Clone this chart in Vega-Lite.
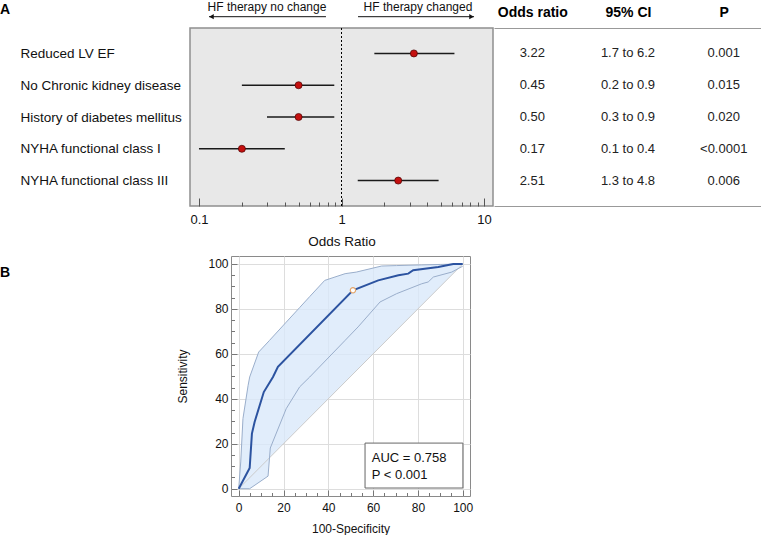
{
  "$schema": "https://vega.github.io/schema/vega-lite/v6.json",
  "padding": {"left": 0, "top": 0, "right": 0, "bottom": 0},
  "background": "white",
  "config": {
    "font": "Liberation Sans",
    "view": {"stroke": null},
    "axis": {"labelFont": "Liberation Sans", "titleFont": "Liberation Sans", "labelColor": "#111", "titleColor": "#111", "titleFontWeight": "normal"},
    "title": {"font": "Liberation Sans", "color": "#000"}
  },
  "datasets": {
    "forest": [
      {"name": "Reduced LV EF", "or": 3.22, "lo": 1.7, "hi": 6.2, "or_t": "3.22", "ci_t": "1.7 to 6.2", "p_t": "0.001"},
      {"name": "No Chronic kidney disease", "or": 0.5, "lo": 0.2, "hi": 0.89, "or_t": "0.45", "ci_t": "0.2 to 0.9", "p_t": "0.015"},
      {"name": "History of diabetes mellitus", "or": 0.5, "lo": 0.3, "hi": 0.89, "or_t": "0.50", "ci_t": "0.3 to 0.9", "p_t": "0.020"},
      {"name": "NYHA functional class I", "or": 0.2, "lo": 0.1, "hi": 0.4, "or_t": "0.17", "ci_t": "0.1 to 0.4", "p_t": "<0.0001"},
      {"name": "NYHA functional class III", "or": 2.5, "lo": 1.3, "hi": 4.8, "or_t": "2.51", "ci_t": "1.3 to 4.8", "p_t": "0.006"}
    ],
    "arrows": [
      {"x1": 0.1176, "x2": 0.778, "y": 1.0635},
      {"x1": 1.306, "x2": 8.51, "y": 1.0635}
    ],
    "heads": [
      {"x": 0.1224, "y": 1.0635, "shape": "triangle-left"},
      {"x": 8.17, "y": 1.0635, "shape": "triangle-right"}
    ],
    "arrowtext": [
      {"x": 0.30, "y": 1.116, "t": "HF therapy no change"},
      {"x": 3.44, "y": 1.116, "t": "HF therapy changed"}
    ],
    "roc_band": [
      {"fpr": 0, "up": 0, "lo": 0},
      {"fpr": 0.9, "up": 11.9, "lo": 0},
      {"fpr": 1.9, "up": 31.2, "lo": 0},
      {"fpr": 4.2, "up": 46, "lo": 0},
      {"fpr": 4.9, "up": 49.7, "lo": 0},
      {"fpr": 8.9, "up": 60.8, "lo": 2.7},
      {"fpr": 13.1, "up": 65.3, "lo": 5.6},
      {"fpr": 13.75, "up": 66, "lo": 13.75},
      {"fpr": 21.2, "up": 74.1, "lo": 21.2},
      {"fpr": 27.2, "up": 80.6, "lo": 27.2},
      {"fpr": 31.7, "up": 85.5, "lo": 31.7},
      {"fpr": 38.4, "up": 92.7, "lo": 38.4},
      {"fpr": 47.5, "up": 95.7, "lo": 47.5},
      {"fpr": 52.5, "up": 96.4, "lo": 52.5},
      {"fpr": 63.8, "up": 99.1, "lo": 63.8},
      {"fpr": 70.5, "up": 99.3, "lo": 70.5},
      {"fpr": 81.7, "up": 99.6, "lo": 81.7},
      {"fpr": 90, "up": 99.8, "lo": 90},
      {"fpr": 100, "up": 100, "lo": 100}
    ],
    "roc_lower": [
      {"fpr": 0, "sens": 0}, {"fpr": 4.9, "sens": 0}, {"fpr": 13.1, "sens": 5.6}, {"fpr": 14.1, "sens": 18.1},
      {"fpr": 21.2, "sens": 35.6}, {"fpr": 27.2, "sens": 45.3}, {"fpr": 31.7, "sens": 49.7}, {"fpr": 47.5, "sens": 66},
      {"fpr": 53.3, "sens": 72}, {"fpr": 63.1, "sens": 83.1}, {"fpr": 70.5, "sens": 86.8}, {"fpr": 81.7, "sens": 91.2},
      {"fpr": 84.6, "sens": 92}, {"fpr": 86.9, "sens": 94.2}, {"fpr": 95.1, "sens": 96.4}, {"fpr": 100, "sens": 99}
    ],
    "roc_main": [
      {"fpr": 0, "sens": 0}, {"fpr": 4.9, "sens": 9.2}, {"fpr": 5.9, "sens": 24.5}, {"fpr": 7.1, "sens": 29.7},
      {"fpr": 11.2, "sens": 43}, {"fpr": 15.3, "sens": 49.7}, {"fpr": 17.5, "sens": 54.2}, {"fpr": 51, "sens": 88.3},
      {"fpr": 62.3, "sens": 92.7}, {"fpr": 71.3, "sens": 95}, {"fpr": 75.7, "sens": 95.7}, {"fpr": 77.9, "sens": 97.2},
      {"fpr": 89.1, "sens": 98.7}, {"fpr": 95.8, "sens": 100}, {"fpr": 100, "sens": 100}
    ],
    "diag": [{"fpr": 0, "sens": 0}, {"fpr": 100, "sens": 100}],
    "cut": [{"fpr": 51, "sens": 88.3}],
    "box": [{"x1": 56.4, "x2": 100.1, "y1": 0.3, "y2": 20.3}],
    "boxtext": [{"fpr": 59.4, "sens": 13.7, "t": "AUC = 0.758"}, {"fpr": 59.4, "sens": 6.0, "t": "P < 0.001"}]
  },
  "spacing": 6,
  "vconcat": [
    {
      "spacing": 0,
      "hconcat": [
        {
          "width": 19, "height": 178,
          "data": {"values": []},
          "mark": "text",
          "title": {"text": "A", "anchor": "start", "fontSize": 14, "fontWeight": "bold", "offset": 11}
        },
        {
          "width": 303, "height": 178,
          "view": {"fill": "#e8e8e8", "stroke": "#8f8f8f", "strokeWidth": 1.5},
          "layer": [
            {
              "data": {"name": "forest"},
              "layer": [
                {
                  "mark": {"type": "rule", "color": "#1a1a1a", "strokeWidth": 1.6},
                  "encoding": {
                    "x": {"field": "lo", "type": "quantitative", "title": "Odds Ratio",
                      "scale": {"type": "log", "domain": [0.0865, 11.56], "nice": false},
                      "axis": {
                        "values": [0.1, 0.2, 0.3, 0.4, 0.5, 0.6, 0.7, 0.8, 0.9, 1, 2, 3, 4, 5, 6, 7, 8, 9, 10],
                        "labelExpr": "datum.value == 0.1 ? '0.1' : datum.value == 1 ? '1' : datum.value == 10 ? '10' : ''",
                        "tickSize": {"condition": {"test": "datum.value == 0.1 || datum.value == 1 || datum.value == 10", "value": -8}, "value": -4},
                        "tickColor": "#555", "domain": false, "grid": false,
                        "labelFontSize": 13, "labelPadding": 15, "labelOverlap": false, "labelFlush": false, "labelBound": false,
                        "titleFontSize": 13.5, "titlePadding": 4
                      }
                    },
                    "x2": {"field": "hi"},
                    "y": {"field": "name", "type": "nominal", "sort": null,
                      "scale": {"type": "point", "padding": 0.8},
                      "axis": {"title": null, "domain": false, "ticks": false, "tickSize": 0, "labelAlign": "left", "labelPadding": 170, "labelFontSize": 13.5, "labelLimit": 400}
                    }
                  }
                },
                {
                  "mark": {"type": "circle", "size": 50, "color": "#c4100f", "stroke": "#4a0000", "strokeWidth": 0.7, "opacity": 1},
                  "encoding": {
                    "x": {"field": "or", "type": "quantitative", "title": "Odds Ratio"},
                    "y": {"field": "name", "type": "nominal", "sort": null}
                  }
                },
                {
                  "data": {"values": [{"v": 1}]},
                  "mark": {"type": "rule", "color": "#000", "strokeWidth": 1, "strokeDash": [2, 2]},
                  "encoding": {"x": {"field": "v", "type": "quantitative", "title": "Odds Ratio"}}
                }
              ]
            },
            {
              "layer": [
                {
                  "data": {"name": "arrows"},
                  "mark": {"type": "rule", "color": "#111", "strokeWidth": 1},
                  "encoding": {
                    "x": {"field": "x1", "type": "quantitative", "title": "Odds Ratio"},
                    "x2": {"field": "x2"},
                    "y": {"field": "y", "type": "quantitative", "scale": {"domain": [0, 1], "nice": false, "zero": false}, "axis": null}
                  }
                },
                {
                  "data": {"name": "heads"},
                  "mark": {"type": "point", "filled": true, "color": "#111", "size": 28, "opacity": 1},
                  "encoding": {
                    "x": {"field": "x", "type": "quantitative", "title": "Odds Ratio"},
                    "y": {"field": "y", "type": "quantitative"},
                    "shape": {"field": "shape", "type": "nominal", "scale": null}
                  }
                },
                {
                  "data": {"name": "arrowtext"},
                  "mark": {"type": "text", "fontSize": 12, "color": "#111", "baseline": "middle"},
                  "encoding": {
                    "x": {"field": "x", "type": "quantitative", "title": "Odds Ratio"},
                    "y": {"field": "y", "type": "quantitative"},
                    "text": {"field": "t"}
                  }
                }
              ]
            }
          ],
          "resolve": {"scale": {"y": "independent"}}
        },
        {
          "width": 268, "height": 178,
          "data": {"name": "forest"},
          "transform": [{"fold": ["or_t", "ci_t", "p_t"], "as": ["col", "val"]}],
          "layer": [
            {
              "mark": {"type": "text", "fontSize": 13, "color": "#222", "baseline": "middle"},
              "encoding": {
                "x": {"field": "col", "type": "nominal", "sort": ["or_t", "ci_t", "p_t"],
                  "scale": {"type": "point", "padding": 0.4},
                  "axis": {"orient": "top", "title": null, "labelAngle": 0,
                    "labelExpr": "datum.value == 'or_t' ? 'Odds ratio' : datum.value == 'ci_t' ? '95% CI' : 'P'",
                    "labelFontWeight": "bold", "labelFontSize": 14, "labelColor": "#000", "ticks": false, "tickSize": 0,
                    "domainColor": "#999", "domainWidth": 1.2, "labelPadding": 9}
                },
                "y": {"field": "name", "type": "nominal", "sort": null, "scale": {"type": "point", "padding": 0.8}, "axis": null},
                "text": {"field": "val"}
              }
            },
            {
              "mark": {"type": "point", "opacity": 0},
              "encoding": {
                "x": {"field": "col", "type": "nominal", "sort": ["or_t", "ci_t", "p_t"],
                  "axis": {"orient": "bottom", "title": null, "labels": false, "ticks": false, "domainColor": "#999", "domainWidth": 1.2}
                },
                "y": {"field": "name", "type": "nominal", "sort": null}
              }
            }
          ],
          "resolve": {"axis": {"x": "independent"}}
        }
      ]
    },
    {
      "spacing": 0,
      "hconcat": [
        {
          "width": 176, "height": 9,
          "data": {"values": []},
          "mark": "text",
          "title": {"text": "B", "orient": "bottom", "anchor": "start", "fontSize": 14, "fontWeight": "bold", "offset": 1}
        },
        {
          "width": 239, "height": 240,
          "view": {"fill": "white", "stroke": "#8a8a8a", "strokeWidth": 1},
          "encoding": {
            "x": {"field": "fpr", "type": "quantitative", "title": "100-Specificity",
              "scale": {"domain": [-3.44, 103.26], "nice": false, "zero": false},
              "axis": {
                "values": [0, 5, 10, 15, 20, 25, 30, 35, 40, 45, 50, 55, 60, 65, 70, 75, 80, 85, 90, 95, 100],
                "labelExpr": "datum.value % 20 == 0 ? datum.label : ''",
                "tickSize": {"condition": {"test": "datum.value % 20 == 0", "value": -6}, "value": -3.5},
                "tickColor": "#777", "domain": false,
                "grid": true, "gridColor": "#dddddd", "gridOpacity": {"condition": {"test": "datum.value % 20 == 0", "value": 1}, "value": 0},
                "labelFontSize": 12, "labelPadding": 12, "labelOverlap": false, "labelFlush": false, "labelBound": false,
                "titleFontSize": 12, "titlePadding": 8
              }
            },
            "y": {"field": "sens", "type": "quantitative", "title": "Sensitivity",
              "scale": {"domain": [-3.25, 103.56], "nice": false, "zero": false},
              "axis": {
                "values": [0, 5, 10, 15, 20, 25, 30, 35, 40, 45, 50, 55, 60, 65, 70, 75, 80, 85, 90, 95, 100],
                "labelExpr": "datum.value % 20 == 0 ? datum.label : ''",
                "tickSize": {"condition": {"test": "datum.value % 20 == 0", "value": -6}, "value": -3.5},
                "tickColor": "#777", "domain": false,
                "grid": true, "gridColor": "#dddddd", "gridOpacity": {"condition": {"test": "datum.value % 20 == 0", "value": 1}, "value": 0},
                "labelFontSize": 12, "labelPadding": 9, "labelOverlap": false, "labelFlush": false, "labelBound": false,
                "titleFontSize": 12, "titlePadding": 18
              }
            }
          },
          "layer": [
            {
              "data": {"name": "roc_band"},
              "mark": {"type": "area", "color": "#d9e9fa", "opacity": 0.8},
              "encoding": {"y": {"field": "up", "type": "quantitative", "title": "Sensitivity"}, "y2": {"field": "lo"}}
            },
            {
              "data": {"name": "diag"},
              "mark": {"type": "line", "color": "#cbcbcb", "strokeWidth": 1}
            },
            {
              "data": {"name": "roc_band"},
              "mark": {"type": "line", "color": "#9aaecb", "strokeWidth": 1},
              "encoding": {"y": {"field": "up", "type": "quantitative", "title": "Sensitivity"}}
            },
            {
              "data": {"name": "roc_lower"},
              "mark": {"type": "line", "color": "#9aaecb", "strokeWidth": 1}
            },
            {
              "data": {"name": "roc_main"},
              "mark": {"type": "line", "color": "#2c53a0", "strokeWidth": 2}
            },
            {
              "data": {"name": "cut"},
              "mark": {"type": "point", "shape": "circle", "filled": true, "fill": "white", "stroke": "#e2a46a", "strokeWidth": 1.2, "size": 28, "opacity": 1}
            },
            {
              "data": {"name": "box"},
              "mark": {"type": "rect", "fill": "white", "stroke": "#666", "strokeWidth": 1},
              "encoding": {
                "x": {"field": "x1", "type": "quantitative", "title": "100-Specificity"},
                "x2": {"field": "x2"},
                "y": {"field": "y1", "type": "quantitative", "title": "Sensitivity"},
                "y2": {"field": "y2"}
              }
            },
            {
              "data": {"name": "boxtext"},
              "mark": {"type": "text", "align": "left", "baseline": "middle", "fontSize": 13, "color": "#111"},
              "encoding": {"text": {"field": "t"}}
            }
          ]
        }
      ]
    }
  ]
}
